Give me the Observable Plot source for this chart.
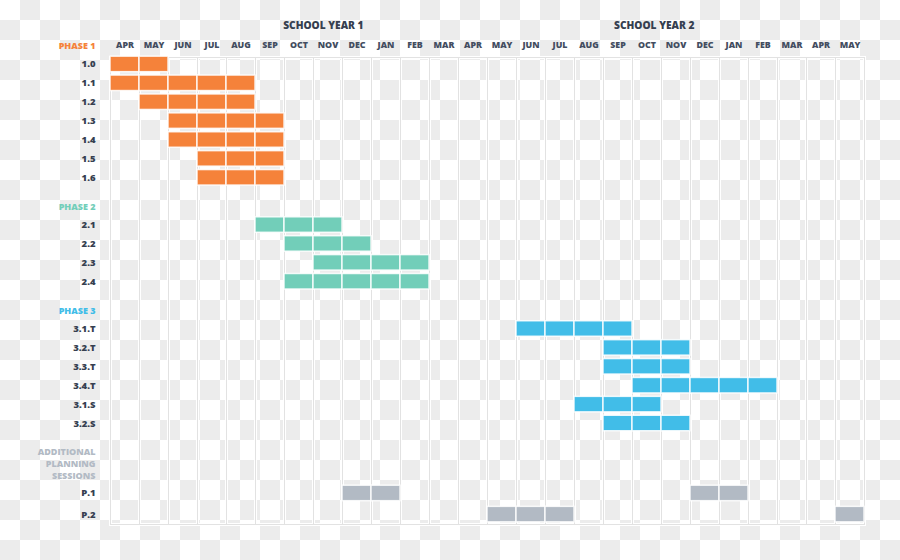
<!DOCTYPE html>
<html>
<head>
<meta charset="utf-8">
<script src="https://cdn.jsdelivr.net/npm/d3@7"></script>
<script src="https://cdn.jsdelivr.net/npm/@observablehq/plot@0.6"></script>
<style>
html, body { margin: 0; padding: 0; }
body {
  width: 900px; height: 560px; overflow: hidden;
  background-color: #ffffff;
  background-image:
    linear-gradient(45deg, #ececec 25%, transparent 25%, transparent 75%, #ececec 75%),
    linear-gradient(45deg, #ececec 25%, transparent 25%, transparent 75%, #ececec 75%);
  background-size: 40px 40px;
  background-position: 0 0, 20px 20px;
}
#chart svg { display: block; }
</style>
</head>
<body>
<div id="chart"></div>
<script>
// ---- data ----
const months = ["APR","MAY","JUN","JUL","AUG","SEP","OCT","NOV","DEC","JAN","FEB","MAR",
                "APR","MAY","JUN","JUL","AUG","SEP","OCT","NOV","DEC","JAN","FEB","MAR","APR","MAY"];
const schoolYears = ["SCHOOL YEAR 1", "SCHOOL YEAR 2"];
const schoolYearCenters = [7.34, 18.75]; // in month-index units
const phases = ["PHASE 1", "PHASE 2", "PHASE 3", "ADDITIONAL\nPLANNING\nSESSIONS"];
const phaseColors = ["#f5823a", "#72ceb9", "#41bde8", "#b2bac4"];
const taskLabels = ["1.0","1.1","1.2","1.3","1.4","1.5","1.6",
                    "2.1","2.2","2.3","2.4",
                    "3.1.T","3.2.T","3.3.T","3.4.T","3.1.S","3.2.S",
                    "P.1","P.2"];
const taskPhase = [0,0,0,0,0,0,0, 1,1,1,1, 2,2,2,2,2,2, 3,3];
// segments (inclusive month index ranges)
const segTask  = ["1.0","1.1","1.2","1.3","1.4","1.5","1.6","2.1","2.2","2.3","2.4",
                  "3.1.T","3.2.T","3.3.T","3.4.T","3.1.S","3.2.S","P.1","P.1","P.2","P.2"];
const segStart = [0,0,1,2,2,3,3, 5,6,7,6, 14,17,17,18,16,17, 8,20, 13,25];
const segEnd   = [1,4,4,5,5,5,5, 7,8,10,10, 17,19,19,22,18,19, 9,21, 15,25];

// ---- row layout (computed from the structure) ----
const taskPos = {};
const headers = [];
let pos = 0;
phases.forEach((p, pi) => {
  const nLines = p.split("\n").length;
  if (pi > 0) pos += 1.5;
  headers.push({label: p, phase: p, pos: pos + (nLines - 1) * 0.3});
  pos += (nLines - 1) * 0.6;
  let k = 0;
  taskLabels.forEach((t, ti) => {
    if (taskPhase[ti] === pi) { pos += (nLines > 1 && k > 0) ? 1.12 : 1; taskPos[t] = pos; k++; }
  });
});

const cells = [];
segTask.forEach((t, si) => {
  const ti = taskLabels.indexOf(t);
  for (let m = segStart[si]; m <= segEnd[si]; m++) {
    cells.push({task: t, phase: phases[taskPhase[ti]], m, pos: taskPos[t]});
  }
});

const tasks = taskLabels.map(t => ({label: t, pos: taskPos[t]}));
const monthData = months.map((m, i) => ({label: m, i}));
const yearData = schoolYears.map((s, i) => ({label: s, x: schoolYearCenters[i]}));

const dark = "#363f50";
const unit = 18.9;
const font = "'Open Sans', Lato, sans-serif";

const chart = Plot.plot({
  width: 900,
  height: 560,
  marginLeft: 110,
  marginRight: 36,
  marginTop: 57,
  marginBottom: 36,
  style: {background: "transparent", fontFamily: font},
  x: {domain: [0, months.length], range: [110, 110 + 29 * months.length], axis: null},
  y: {domain: [0, 25], range: [45, 45 + 25 * unit], axis: null},
  color: {domain: phases, range: phaseColors},
  marks: [
    Plot.frame({stroke: "white", strokeWidth: 3}),
    Plot.gridX(d3.range(months.length + 1), {stroke: "white", strokeWidth: 3, strokeOpacity: 1}),
    Plot.gridX(d3.range(months.length + 1), {stroke: "#e2e2e2", strokeWidth: 1, strokeOpacity: 1}),
    Plot.frame({stroke: "#e2e2e2", strokeWidth: 1}),
    Plot.rect(cells, {
      x1: d => d.m, x2: d => d.m + 1,
      y1: d => d.pos - 0.41, y2: d => d.pos + 0.41,
      fill: "phase", stroke: "white", strokeWidth: 1.5, strokeOpacity: 0.85
    }),
    Plot.text(monthData, {
      x: d => d.i + 0.5, y: () => headers[0].pos, text: "label",
      fill: "#434d60", fontSize: 8.8, fontWeight: 800, letterSpacing: 0.3
    }),
    Plot.text(yearData, {
      x: "x", y: () => headers[0].pos, dy: -20, text: "label",
      fill: dark, fontSize: 10.2, fontWeight: 800, letterSpacing: 0.4
    }),
    Plot.text(headers, {
      x: () => 0, y: "pos", dx: -15, text: "label", textAnchor: "end",
      fill: "phase", fontSize: 9, fontWeight: 800, letterSpacing: 0.8, lineHeight: 1.3
    }),
    Plot.text(tasks, {
      x: () => 0, y: "pos", dx: -15, text: "label", textAnchor: "end",
      fill: dark, fontSize: 9.5, fontWeight: 800
    })
  ]
});
document.getElementById("chart").append(chart);
</script>
</body>
</html>
